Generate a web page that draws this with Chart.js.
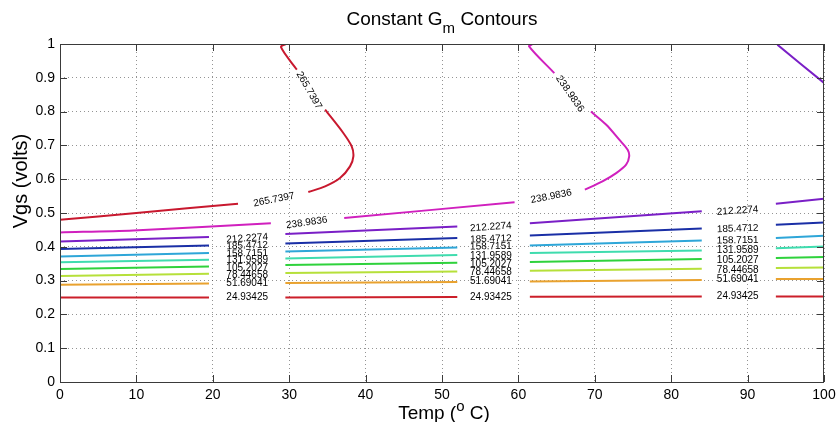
<!DOCTYPE html>
<html>
<head>
<meta charset="utf-8">
<title>Constant Gm Contours</title>
<script src="https://cdn.jsdelivr.net/npm/chart.js@4.4.0/dist/chart.umd.min.js"></script>
<style>
  html, body { margin: 0; padding: 0; background: #fff; }
  #gmChart { display: block; }
</style>
</head>
<body>
<canvas id="gmChart" width="836" height="422"></canvas>
<script>

// contour levels (Gm) and their line colours
const levels = ['24.93425', '51.69041', '78.44658', '105.2027', '131.9589', '158.7151', '185.4712', '212.2274', '238.9836', '265.7397'];
const levelColors = ['#cc1f2a', '#e9a22f', '#b6e03a', '#2fd23c', '#3fdcae', '#2ea6d8', '#1a2fa6', '#7a1fc6', '#d020be', '#c8182e'];

// the eight flat contours share the same temperature breaks (null = label gap)
const bandTemp = [0, 19.5, null, 29.5, 52, null, 61.5, 84, null, 93.7, 100];
const vgs24  = [0.250, 0.250, null, 0.250, 0.2515, null, 0.2524, 0.2533, null, 0.2533, 0.2533];
const vgs51  = [0.288, 0.2917, null, 0.293, 0.296, null, 0.2977, 0.302, null, 0.3047, 0.3047];
const vgs78  = [0.3136, 0.3204, null, 0.3225, 0.327, null, 0.329, 0.335, null, 0.337, 0.339];
const vgs105 = [0.334, 0.342, null, 0.346, 0.353, null, 0.355, 0.364, null, 0.367, 0.370];
const vgs131 = [0.354, 0.362, null, 0.3657, 0.376, null, 0.3817, 0.389, null, 0.396, 0.401];
const vgs158 = [0.3716, 0.3817, null, 0.3864, 0.398, null, 0.404, 0.419, null, 0.426, 0.433];
const vgs185 = [0.3935, 0.404, null, 0.410, 0.426, null, 0.4337, 0.454, null, 0.465, 0.472];
const vgs212 = [0.416, 0.429, null, 0.438, 0.460, null, 0.470, 0.505, null, 0.5275, 0.542];

// upper branch of 212.2274 entering at the top right corner
const temp212Top = [93.9, 96.8, 100];
const vgs212Top  = [0.998, 0.944, 0.885];

// 238.9836 bends back on itself around 74 C
const temp238 = [0, 9.6, 27.6, null, 37.2, 59.5, null, 68.7, 71.0, 72.8, 74.1, 74.5, 74.3, 73.2, 71.5, 69.5, null, 64.7, 61.4, 61.9];
const vgs238  = [0.4426, 0.4485, 0.470, null, 0.485, 0.532, null, 0.569, 0.5935, 0.618, 0.643, 0.6675, 0.687, 0.717, 0.761, 0.80, null, 0.914, 0.993, 1.0];

// 265.7397 bends back around 38 C
const temp265 = [0, 10, 23.3, null, 32.5, 34.7, 36.65, 37.96, 38.4, 38.18, 37.08, 34.7, null, 31.0, 28.93, 29.6];
const vgs265  = [0.480, 0.500, 0.5275, null, 0.562, 0.5788, 0.6035, 0.638, 0.6675, 0.697, 0.7367, 0.8056, null, 0.924, 0.9905, 1.0];

// inline contour labels: three stacks (212.2274 down to 24.93425)
const stackText  = ['212.2274', '185.4712', '158.7151', '131.9589', '105.2027', '78.44658', '51.69041', '24.93425'];
const stackAngle = [-4, -2, -1, 0, 0, 0, 0, 0];
const gapTemp = [24.5, 56.4, 88.7];
const gap1Vgs = [0.4249, 0.4033, 0.3805, 0.3589, 0.3373, 0.3145, 0.2908, 0.2503];
const gap2Vgs = [0.4586, 0.4231, 0.4012, 0.3716, 0.3491, 0.3254, 0.2976, 0.2515];
const gap3Vgs = [0.5068, 0.4536, 0.4189, 0.3893, 0.3589, 0.3302, 0.3027, 0.2524];

// labels on the two bent contours
const bendText  = ['265.7397', '238.9836', '238.9836', '265.7397', '238.9836'];
const bendTemp  = [28.0, 32.3, 64.3, 32.6, 66.75];
const bendVgs   = [0.5393, 0.4713, 0.549, 0.8627, 0.8527];
const bendAngle = [-11, -8, -11, 60, 55];

const xTicks = { min: 0, max: 100, step: 10 };
const yTicks = { min: 0, max: 1, step: 0.1 };

Chart.defaults.font.family = "'Liberation Sans', Arial, Helvetica, sans-serif";
Chart.defaults.color = '#000';

function points(temps, vgs) {
  return temps.map(function (t, i) { return { x: t, y: vgs[i] }; });
}

const gap = [{ x: null, y: null }];
const paths = [
  points(bandTemp, vgs24),
  points(bandTemp, vgs51),
  points(bandTemp, vgs78),
  points(bandTemp, vgs105),
  points(bandTemp, vgs131),
  points(bandTemp, vgs158),
  points(bandTemp, vgs185),
  points(bandTemp, vgs212).concat(gap, points(temp212Top, vgs212Top)),
  points(temp238, vgs238),
  points(temp265, vgs265)
];

const datasets = paths.map(function (p, i) {
  return {
    label: levels[i],
    data: p,
    borderColor: levelColors[i],
    backgroundColor: levelColors[i],
    borderWidth: 2,
    fill: false,
    pointRadius: 0,
    tension: i >= 8 ? 0.3 : 0,
    spanGaps: false
  };
});

const font = "'Liberation Sans', Arial, Helvetica, sans-serif";

// labels, box, inward ticks and the titles with sub/superscripts
const decorations = {
  id: 'decorations',
  afterDatasetsDraw: function (chart) {
    const ctx = chart.ctx;
    const xs = chart.scales.x, ys = chart.scales.y;
    const area = chart.chartArea;

    function label(text, t, v, angle) {
      ctx.save();
      ctx.translate(xs.getPixelForValue(t), ys.getPixelForValue(v));
      ctx.rotate(angle * Math.PI / 180);
      ctx.font = '10px ' + font;
      ctx.fillStyle = '#000';
      ctx.textAlign = 'center';
      ctx.textBaseline = 'middle';
      ctx.fillText(text, 0, 0);
      ctx.restore();
    }

    [gap1Vgs, gap2Vgs, gap3Vgs].forEach(function (col, g) {
      col.forEach(function (v, i) { label(stackText[i], gapTemp[g], v, stackAngle[i]); });
    });
    bendText.forEach(function (txt, i) { label(txt, bendTemp[i], bendVgs[i], bendAngle[i]); });

    // axes box with MATLAB style inward ticks
    ctx.save();
    ctx.strokeStyle = '#3a3a3a';
    ctx.lineWidth = 1;
    ctx.strokeRect(Math.round(area.left) + 0.5, Math.round(area.top) + 0.5,
      Math.round(area.right - area.left) - 1, Math.round(area.bottom - area.top));
    ctx.beginPath();
    xs.ticks.forEach(function (tk) {
      const px = Math.round(xs.getPixelForValue(tk.value)) + 0.5;
      ctx.moveTo(px, area.bottom); ctx.lineTo(px, area.bottom - 7);
      ctx.moveTo(px, area.top); ctx.lineTo(px, area.top + 7);
    });
    ys.ticks.forEach(function (tk) {
      const py = Math.round(ys.getPixelForValue(tk.value)) + 0.5;
      ctx.moveTo(area.left, py); ctx.lineTo(area.left + 7, py);
      ctx.moveTo(area.right, py); ctx.lineTo(area.right - 7, py);
    });
    ctx.stroke();
    ctx.restore();

    const cx = (area.left + area.right) / 2;
    ctx.save();
    ctx.fillStyle = '#000';
    ctx.textBaseline = 'alphabetic';
    ctx.textAlign = 'left';

    // title: Constant G_m Contours
    const big = '19px ' + font, small = '15px ' + font;
    ctx.font = big;
    const w1 = ctx.measureText('Constant G').width;
    const w3 = ctx.measureText(' Contours').width;
    ctx.font = small;
    const w2 = ctx.measureText('m').width;
    let x0 = cx - (w1 + w2 + w3) / 2;
    ctx.font = big; ctx.fillText('Constant G', x0, 25);
    ctx.font = small; ctx.fillText('m', x0 + w1, 33);
    ctx.font = big; ctx.fillText(' Contours', x0 + w1 + w2, 25);

    // x axis title: Temp (^o C)
    ctx.font = big;
    const a1 = ctx.measureText('Temp (').width;
    const a3 = ctx.measureText(' C)').width;
    ctx.font = small;
    const a2 = ctx.measureText('o').width;
    x0 = cx - (a1 + a2 + a3) / 2 + 2;
    ctx.font = big; ctx.fillText('Temp (', x0, 419);
    ctx.font = small; ctx.fillText('o', x0 + a1, 411);
    ctx.font = big; ctx.fillText(' C)', x0 + a1 + a2, 419);

    // y axis title
    ctx.translate(27, 181);
    ctx.rotate(-Math.PI / 2);
    ctx.textAlign = 'center';
    ctx.font = '20px ' + font;
    ctx.fillText('Vgs (volts)', 0, 0);
    ctx.restore();
  }
};

const gridColor = 'rgba(60,60,60,0.55)';

new Chart('gmChart', {
  type: 'line',
  data: { datasets: datasets },
  options: {
    responsive: false,
    animation: false,
    events: [],
    layout: { padding: { top: 44, right: 12, bottom: 0, left: 0 } },
    plugins: {
      legend: { display: false },
      title: { display: false },
      tooltip: { enabled: false }
    },
    scales: {
      x: {
        type: 'linear',
        min: xTicks.min,
        max: xTicks.max,
        ticks: { stepSize: xTicks.step, padding: 5, maxRotation: 0, autoSkip: false, font: { size: 14 } },
        grid: { color: gridColor, drawTicks: false, borderDash: [1, 3] },
        border: { display: false, dash: [1, 3] },
        afterFit: function (s) { s.height = 40; s.paddingLeft = 0; s.paddingRight = 0; }
      },
      y: {
        type: 'linear',
        min: yTicks.min,
        max: yTicks.max,
        ticks: {
          stepSize: yTicks.step, padding: 5, font: { size: 14 },
          callback: function (v) { return String(+v.toFixed(1)); }
        },
        grid: { color: gridColor, drawTicks: false, borderDash: [1, 3] },
        border: { display: false, dash: [1, 3] },
        afterFit: function (s) { s.width = 60; s.paddingTop = 0; s.paddingBottom = 0; }
      }
    }
  },
  plugins: [decorations]
});
</script>
</body>
</html>
